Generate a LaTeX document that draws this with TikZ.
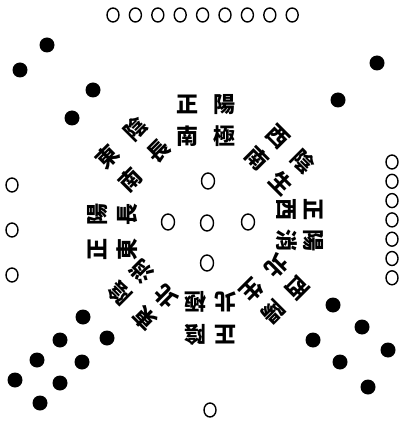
\documentclass[tikz,border=0pt]{standalone}
\usepackage{fontspec}
\newfontfamily\cjk{Noto Sans CJK TC}
\usetikzlibrary{shapes.geometric}
\tikzset{
  yang/.style={ellipse, draw, line width=1.4pt, inner sep=0pt,
    minimum width=12pt, minimum height=14pt},
  yin/.style={circle, fill=black, inner sep=0pt, minimum size=15pt},
  words/.style={font=\cjk\bfseries\fontsize{22}{22}\selectfont, inner sep=0pt,
    text height=19pt, text depth=2.5pt}
}
\begin{document}
\begin{tikzpicture}[x=1pt,y=-1pt]
      \fill[white] (0,0) rectangle (402,427);
      \useasboundingbox (0,0) rectangle (402,427);

      % white dots
      \foreach \i in {1,...,9}
        \node[yang] (nine\i) at ({113+22.4*(\i-1)},15) {};
      \foreach \i/\y in {1/185,2/230,3/275}
        \node[yang] (three\i) at (12,\y) {};
      \foreach \i in {1,...,7}
        \node[yang] (seven\i) at (392,{162+19.3*(\i-1)}) {};
      \node[yang] (one) at (210,410) {};

      \node[yang, minimum width=13pt, minimum height=16pt] (five0) at (207,223) {};
      \node[yang, minimum width=13pt, minimum height=16pt] (five1) at (208,181) {};
      \node[yang, minimum width=13pt, minimum height=16pt] (five2) at (168,222) {};
      \node[yang, minimum width=13pt, minimum height=16pt] (five3) at (248,222) {};
      \node[yang, minimum width=13pt, minimum height=16pt] (five4) at (207,263) {};

      % black dots
      \foreach \i/\x/\y in {1/47/45,2/20/70,3/93/90,4/72/118}
        \node[yin] (four\i) at (\x,\y) {};
      \foreach \i/\x/\y in {1/377/63,2/338/100}
        \node[yin] (two\i) at (\x,\y) {};
      \foreach \i/\x/\y in {1/83/317,2/60/340,3/37/360,4/15/380,5/107/338,6/82/362,7/60/383,8/40/403}
        \node[yin] (eight\i) at (\x,\y) {};
      \foreach \i/\x/\y in {1/333/305,2/362/327,3/388/350,4/313/340,5/340/362,6/368/387}
        \node[yin] (six\i) at (\x,\y) {};

      % the eight sayings, outer pair then inner pair
      \foreach \nm/\x/\y/\r/\h/\v/\a/\b/\c/\d in {
          s/206/120/0/18.5/16/正/陽/南/極, se/133/154/45/20/16/東/陰/南/長,
          e/112/232/90/17.5/15/正/陽/東/長, ne/143/295/135/17.5/15.5/東/陰/北/消,
          n/210/318/180/15/16.5/正/陰/北/極, nw/275/289/-135/17/15.5/西/陽/北/生,
          w/300/225/-90/15/13.5/正/陽/西/消, sw/280/160/-45/17.5/15.5/西/陰/南/生}{
        \begin{scope}[shift={(\x,\y)}, rotate=\r, transform shape]
          \node[words] (\nm1) at (-\h,-\v) {\a};
          \node[words] (\nm2) at (\h,-\v) {\b};
          \node[words] (\nm3) at (-\h,\v) {\c};
          \node[words] (\nm4) at (\h,\v) {\d};
        \end{scope}
      }
    \end{tikzpicture}
\end{document}
